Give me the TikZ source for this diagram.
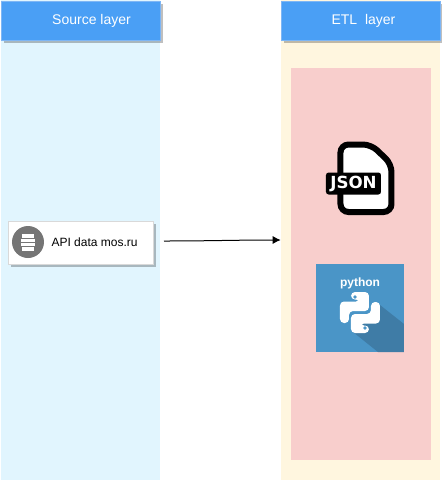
\documentclass[tikz,border=0pt]{standalone}
\usepackage{fontspec}
\setmainfont{Liberation Sans}
\newfontfamily\jsonfont{DejaVu Sans}
\usetikzlibrary{arrows.meta,positioning,calc,shadows}
\definecolor{softsky}{RGB}{225,245,254}
\definecolor{softcream}{RGB}{255,246,223}
\definecolor{softred}{RGB}{248,206,204}
\definecolor{headblue}{RGB}{74,159,245}
\definecolor{headedge}{RGB}{126,182,245}
\definecolor{icongrey}{RGB}{117,117,117}
\definecolor{pyblue}{RGB}{74,149,199}
\definecolor{pyshade}{RGB}{63,124,166}

\begin{document}
\begin{tikzpicture}[
  x=0.75pt,y=-0.75pt,
  panel/.style={inner sep=0pt,minimum width=119.25pt,minimum height=360pt},
  head/.style={draw=headedge,fill=headblue,inner sep=0pt,text=white,
              minimum width=119.25pt,minimum height=29.25pt,font=\fontsize{10.5}{12}\selectfont,
              general shadow={fill=black,opacity=0.25,shadow xshift=2.25pt,shadow yshift=-2.25pt}},
  >={Latex[length=6pt,width=6pt]}]
\useasboundingbox (0,0) rectangle (442,480);
\node[panel,fill=softsky] (srcpanel) at (80.5,240) {};
\node[panel,fill=softcream] (etlpanel) at (360.5,240) {};
\node[inner sep=0pt,minimum width=105pt,minimum height=294pt,fill=softred] (redpanel) at (361,264) {};
\node[head] (srchead) at (80.5,20.5) {\hspace{16.5pt}Source layer};
\node[head] (etlhead) at (360.5,20.5) {\hspace{4.5pt}ETL\ \ layer};
% api box
\node[draw=black!15,fill=white,inner sep=0pt,minimum width=108.75pt,minimum height=32.25pt,
      general shadow={fill=black,opacity=0.25,shadow xshift=2.25pt,shadow yshift=-2.25pt}] (apibox) at (80.5,242.5) {};
\node[circle,fill=icongrey,inner sep=0pt,minimum size=24pt] (apiicon) at (28,242) {};
\foreach \ypos/\hw in {236/6,240.4/7,244.8/7,249/6}
  \draw[white,line width=2.4pt] (28-\hw,\ypos)--(28+\hw,\ypos);
\node[right=5.25pt of apiicon,inner sep=0pt,font=\fontsize{9}{11}\selectfont] (apilabel) {API data mos.ru};
% json icon
\draw[line width=4.5pt,fill=white,rounded corners=6pt] (340.5,144.5)--(371,144.5)--(391.5,164)--(391.5,212)--(340.5,212)--cycle;
\node[fill=black,text=white,rounded corners=2pt,inner sep=0pt,minimum width=41.25pt,minimum height=16.5pt,
      font=\jsonfont\bfseries\fontsize{12.5}{14}\selectfont] (jsonlabel) at (353.5,183.5) {JSON};
% python icon
\node[fill=pyblue,inner sep=0pt,minimum size=66pt] (pysquare) at (360,308) {};
\fill[pyshade] (380,305)--(404,324)--(404,352)--(378,352)--(353,332)--cycle;
\node[text=white,inner sep=0pt,font=\bfseries\fontsize{9}{11}\selectfont] (pytext) at (360,283) {python};
\foreach \ang in {0,180}{
  \begin{scope}[shift={(360,312.5)},rotate=\ang]
  \fill[white,rounded corners=3pt] (-9,-13)--(-9,-20.5)--(9,-20.5)--(9,-1.5)--(-11,-1.5)--(-11,10.5)--(-20,10.5)--(-20,-11)--(0,-11)--(0,-13)--cycle;
  \fill[pyblue] (-5,-15.5) circle (1.4pt);
  \end{scope}
}
\coordinate (arrowstart) at (164,241);
\draw[->,line width=0.75pt] (arrowstart) to[out=0,in=180] (etlpanel.west);
\end{tikzpicture}
\end{document}
